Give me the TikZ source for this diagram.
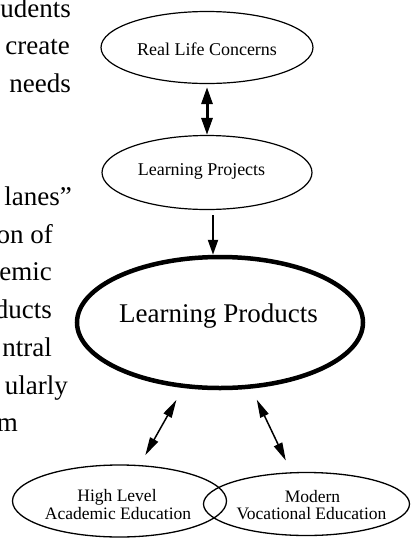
\documentclass[tikz,border=0pt]{standalone}
\usepackage{fontspec}
\setmainfont{Liberation Serif}
\usetikzlibrary{arrows.meta,shapes.geometric}
\begin{document}
\begin{tikzpicture}[x=1pt,y=-1pt,
  bubble/.style={draw, ellipse, inner sep=0pt, line width=1.2pt},
  keybubble/.style={draw, ellipse, inner sep=0pt, line width=4.5pt},
  lbl/.style={anchor=base, inner sep=0pt, font=\fontsize{18}{18}\selectfont},
  pairlbl/.style={anchor=base, inner sep=0pt, font=\fontsize{17.5}{17.5}\selectfont},
  keylbl/.style={anchor=base, inner sep=0pt, font=\fontsize{27}{27}\selectfont},
  prose/.style={anchor=base east, inner sep=0pt, font=\fontsize{27}{33}\selectfont},
  bigdbl/.style={{Triangle[length=17pt,width=11pt]}-{Triangle[length=17pt,width=11pt]}, line width=3pt},
  downarrow/.style={-{Triangle[length=15pt,width=10pt]}, line width=2.2pt},
  thindbl/.style={{Triangle[length=18pt,width=9pt]}-{Triangle[length=18pt,width=9pt]}, line width=1.5pt}
]
\useasboundingbox (0,0) rectangle (413,539);

% running text of the page, cut by the left margin
\node[prose] (p0)  at (71,17)    {udents};
\node[prose] (p1)  at (70,54.7)  {create};
\node[prose] (p2)  at (71,92.4)  {needs};
\node[prose] (p5)  at (72,205.5) {lanes”};
\node[prose] (p6)  at (53,243.2) {on of};
\node[prose] (p7)  at (52,280.9) {emic};
\node[prose] (p8)  at (52,318.6) {ducts};
\node[prose] (p9)  at (52,356.3) {ntral};
\node[prose] (p10) at (68,394)   {ularly};
\node[prose] (p11) at (18,431.7) {m};

% ellipses
\node[bubble, minimum width=212pt, minimum height=72pt] (rlc) at (207,47.5) {};
\node[bubble, minimum width=210pt, minimum height=74pt] (lpj) at (207,172.5) {};
\node[keybubble, minimum width=286pt, minimum height=131pt] (lpd) at (220,322.5) {};
\node[bubble, line width=1.3pt, minimum width=214pt, minimum height=72pt] (hla) at (119.5,501) {};
\node[bubble, line width=1.3pt, minimum width=206pt, minimum height=63pt] (mve) at (306.5,504) {};

% labels
\node[lbl] (rlct) at (207,55) {Real Life Concerns};
\node[lbl] (lpjt) at (201.5,175) {Learning Projects};
\node[keylbl] (lpdt) at (218.5,322) {Learning Products};
\node[pairlbl] (hlt1) at (117,501.5) {High Level};
\node[pairlbl] (hlt2) at (118,519) {Academic Education};
\node[pairlbl] (mvt1) at (312.5,502) {Modern};
\node[pairlbl] (mvt2) at (311.5,519.5) {Vocational Education};

% connectors
\draw[bigdbl, shorten <=3pt] (rlc.south) -- (lpj.north);
\draw[downarrow, shorten <=5pt] ([xshift=6pt]lpj.south) -- ([xshift=-7pt]lpd.north);
\draw[thindbl, shorten <=13.7pt, shorten >=11.3pt] (lpd) -- (hla);
\draw[thindbl, shorten <=12.2pt, shorten >=12.9pt] (lpd) -- (mve);
\end{tikzpicture}
\end{document}
